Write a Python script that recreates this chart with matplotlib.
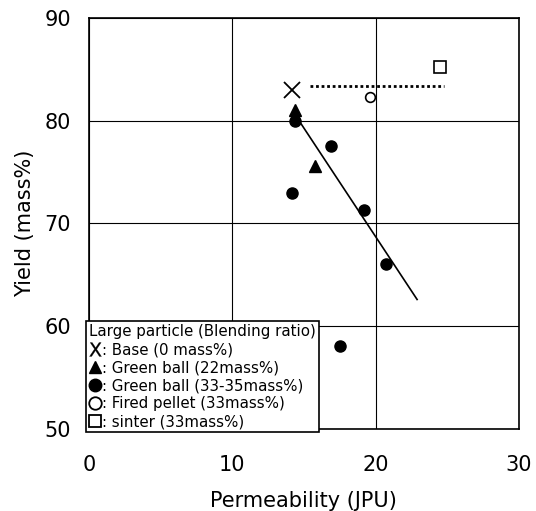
import matplotlib.pyplot as plt
from matplotlib.lines import Line2D

plt.rcParams['font.family'] = ['DejaVu Sans']

# data
base_x = [14.2]
base_y = [83.0]
gb22_x = [14.4, 15.8]
gb22_y = [81.0, 75.6]
gb33_x = [14.4, 16.9, 14.2, 19.2, 20.7, 17.5]
gb33_y = [80.0, 77.5, 73.0, 71.3, 66.1, 58.1]
pellet_x = [19.6]
pellet_y = [82.3]
sinter_x = [24.5]
sinter_y = [85.2]
fit_x = [14.8, 22.9]
fit_y = [79.7, 62.6]
level_x = [15.4, 24.8]
level_y = [83.4, 83.4]

fig = plt.figure(figsize=(5.36, 5.11), dpi=100)
ax = fig.add_axes([0.166, 0.1605, 0.802, 0.8045])

ax.plot(fit_x, fit_y, color='black', linewidth=1.2)
ax.plot(level_x, level_y, color='black', linestyle=(0, (1, 1)), linewidth=2)
ax.plot(base_x, base_y, 'x', color='black', markersize=11, markeredgewidth=1.3)
ax.plot(gb22_x, gb22_y, '^', color='black', markersize=9)
ax.plot(gb33_x, gb33_y, 'o', color='black', markersize=8)
ax.plot(pellet_x, pellet_y, 'o', markerfacecolor='white', markeredgecolor='black',
        markersize=7, markeredgewidth=1.2)
ax.plot(sinter_x, sinter_y, 's', markerfacecolor='white', markeredgecolor='black',
        markersize=8, markeredgewidth=1.2)

ax.set_xlim(0, 30)
ax.set_ylim(50, 90)
ax.set_xticks([0, 10, 20, 30])
ax.set_yticks([50, 60, 70, 80, 90])
ax.grid(True, color='black', linewidth=0.8)
ax.tick_params(length=0, labelsize=15)
ax.tick_params(axis='x', pad=19)
ax.tick_params(axis='y', pad=13)
for s in ax.spines.values():
    s.set_linewidth(1.2)
ax.set_xlabel("Permeability (JPU)", fontsize=15, labelpad=11)
ax.set_ylabel("Yield (mass%)", fontsize=15, labelpad=7)

handles = [
    Line2D([], [], linestyle='none', marker=r'$\mathsf{X}$', color='black',
           markersize=10, markeredgewidth=0.2),
    Line2D([], [], linestyle='none', marker='^', color='black', markersize=9),
    Line2D([], [], linestyle='none', marker='o', color='black', markersize=9),
    Line2D([], [], linestyle='none', marker='o', markerfacecolor='white',
           markeredgecolor='black', markersize=9, markeredgewidth=1.3),
    Line2D([], [], linestyle='none', marker='s', markerfacecolor='white',
           markeredgecolor='black', markersize=9, markeredgewidth=1.3),
]
labels = [": Base (0 mass%)", ": Green ball (22mass%)", ": Green ball (33-35mass%)",
          ": Fired pellet (33mass%)", ": sinter (33mass%)"]
leg = ax.legend(handles, labels, title="Large particle (Blending ratio)",
                loc='lower left', bbox_to_anchor=(-0.006, -0.008),
                fontsize=10.8, title_fontsize=10.8, fancybox=False, framealpha=1,
                edgecolor='black', handlelength=0.8, handletextpad=0.05,
                labelspacing=0.2, borderpad=0.2, borderaxespad=0)
leg._legend_box.align = 'left'
leg.get_frame().set_linewidth(1.2)

fig.savefig("out.png", dpi=100)
